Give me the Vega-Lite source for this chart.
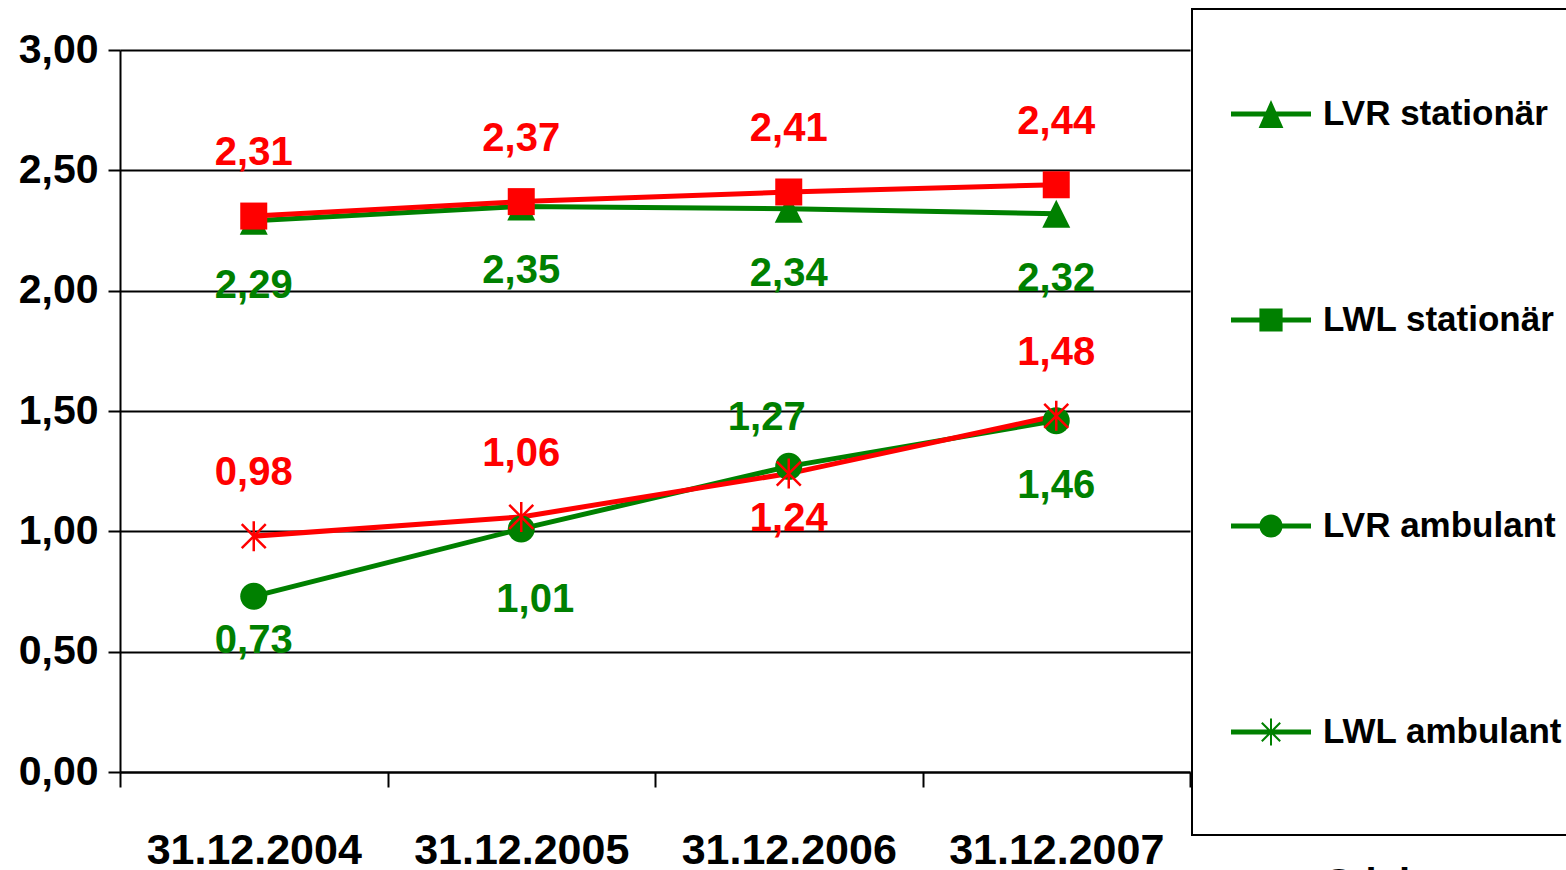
{
  "$schema": "https://vega.github.io/schema/vega-lite/v6.json",
  "autosize": {"type": "none"},
  "padding": {"left": 120, "top": 50, "right": 376, "bottom": 98},
  "width": 1070,
  "height": 722,
  "background": "white",
  "config": {
    "view": {"stroke": null},
    "locale": {"number": {"decimal": ",", "thousands": ".", "grouping": [3], "currency": ["", " €"]}},
    "font": "Liberation Sans"
  },
  "data": {
    "values": [
      {"date": "31.12.2004", "serie": "LVR stationär", "value": 2.29},
      {"date": "31.12.2005", "serie": "LVR stationär", "value": 2.35},
      {"date": "31.12.2006", "serie": "LVR stationär", "value": 2.34},
      {"date": "31.12.2007", "serie": "LVR stationär", "value": 2.32},
      {"date": "31.12.2004", "serie": "LWL stationär", "value": 2.31},
      {"date": "31.12.2005", "serie": "LWL stationär", "value": 2.37},
      {"date": "31.12.2006", "serie": "LWL stationär", "value": 2.41},
      {"date": "31.12.2007", "serie": "LWL stationär", "value": 2.44},
      {"date": "31.12.2004", "serie": "LVR ambulant", "value": 0.73},
      {"date": "31.12.2005", "serie": "LVR ambulant", "value": 1.01},
      {"date": "31.12.2006", "serie": "LVR ambulant", "value": 1.27},
      {"date": "31.12.2007", "serie": "LVR ambulant", "value": 1.46},
      {"date": "31.12.2004", "serie": "LWL ambulant", "value": 0.98},
      {"date": "31.12.2005", "serie": "LWL ambulant", "value": 1.06},
      {"date": "31.12.2006", "serie": "LWL ambulant", "value": 1.24},
      {"date": "31.12.2007", "serie": "LWL ambulant", "value": 1.48}
    ]
  },
  "encoding": {
    "x": {
      "field": "date", "type": "ordinal",
      "scale": {"paddingInner": 0, "paddingOuter": 0},
      "axis": {
        "title": "Stichtag",
        "titleFont": "Liberation Sans", "titleFontWeight": "bold", "titleFontSize": 40, "titleColor": "black",
        "titleX": 1284, "titleY": 92, "titleBaseline": "top", "titleAlign": "center", "titleAnchor": null,
        "labelAngle": 0,
        "labelFont": "Liberation Sans", "labelFontWeight": "bold", "labelFontSize": 43, "labelColor": "black",
        "labelPadding": 42, "labelLimit": 0,
        "tickBand": "extent", "ticks": true, "tickSize": 15, "tickWidth": 2, "tickColor": "black",
        "domain": true, "domainColor": "black", "domainWidth": 2,
        "grid": false
      }
    },
    "y": {
      "field": "value", "type": "quantitative",
      "scale": {"domain": [0, 3], "nice": false, "zero": true},
      "axis": {
        "title": null,
        "values": [0, 0.5, 1, 1.5, 2, 2.5, 3],
        "format": ".2f",
        "labelFont": "Liberation Sans", "labelFontWeight": "bold", "labelFontSize": 41, "labelColor": "black",
        "labelPadding": 10,
        "tickSize": 12, "tickWidth": 2, "tickColor": "black",
        "domain": true, "domainColor": "black", "domainWidth": 2,
        "grid": true, "gridColor": "black", "gridWidth": 2
      }
    },
    "color": {
      "field": "serie", "type": "nominal",
      "scale": {
        "domain": ["LVR stationär", "LWL stationär", "LVR ambulant", "LWL ambulant"],
        "range": ["#008000", "#FF0000", "#008000", "#FF0000"]
      },
      "legend": null
    }
  },
  "layer": [
    {
      "mark": {"type": "line", "strokeWidth": 5}
    },
    {
      "transform": [{"filter": "datum.serie == 'LVR stationär'"}],
      "mark": {"type": "point", "filled": true, "opacity": 1, "shape": "M0,-1L1,1L-1,1Z", "size": 784}
    },
    {
      "transform": [{"filter": "datum.serie == 'LWL stationär'"}],
      "mark": {"type": "point", "filled": true, "opacity": 1, "shape": "square", "size": 729}
    },
    {
      "transform": [{"filter": "datum.serie == 'LVR ambulant'"}],
      "mark": {"type": "point", "filled": true, "opacity": 1, "shape": "circle", "size": 729}
    },
    {
      "transform": [{"filter": "datum.serie == 'LWL ambulant'"}],
      "mark": {"type": "point", "filled": false, "opacity": 1, "strokeWidth": 2.5, "shape": "M0,-1L0,1M-0.8,-0.8L0.8,0.8M-0.8,0.8L0.8,-0.8", "size": 900}
    },
    {
      "mark": {"type": "point", "filled": true, "opacity": 0.001, "size": 6400},
      "encoding": {
        "shape": {
          "field": "serie", "type": "nominal",
          "sort": ["LVR stationär", "LWL stationär", "LVR ambulant", "LWL ambulant"],
          "scale": {
            "range": [
              "M-1,-0.0625H1V0.0625H-1ZM0,-0.35L0.31,0.35L-0.31,0.35ZM0,-2.5L0,-2.5M0,2.5L0,2.5M8,0L8,0",
              "M-1,-0.0625H1V0.0625H-1ZM-0.29,-0.29H0.29V0.29H-0.29ZM0,-2.5L0,-2.5M0,2.5L0,2.5M8,0L8,0",
              "M-1,-0.0625H1V0.0625H-1ZM-0.29,0A0.29,0.29 0 1,1 0.29,0A0.29,0.29 0 1,1 -0.29,0ZM0,-2.5L0,-2.5M0,2.5L0,2.5M8,0L8,0",
              "M-1,-0.0625H1V0.0625H-1ZM-0.025,-0.34H0.025V0.34H-0.025ZM-0.212,-0.248L0.248,0.212L0.212,0.248L-0.248,-0.212ZM-0.212,0.248L-0.248,0.212L0.212,-0.248L0.248,-0.212ZM0,-2.5L0,-2.5M0,2.5L0,2.5M8,0L8,0"
            ]
          },
          "legend": {
            "orient": "none", "legendX": 1072, "legendY": -41,
            "title": " ",
            "titleFontSize": 10,
            "titlePadding": 54,
            "padding": 0,
            "strokeColor": "black",
            "rowPadding": 0,
            "symbolSize": 6400,
            "symbolOffset": 38,
            "symbolOpacity": 1,
            "symbolFillColor": "#008000",
            "symbolStrokeColor": "transparent",
            "labelOffset": 11,
            "labelFont": "Liberation Sans", "labelFontWeight": "bold", "labelFontSize": 35, "labelColor": "black",
            "labelLimit": 1000,
            "encode": {
              "legend": {"update": {"strokeWidth": {"value": 2}}},
              "symbols": {"update": {
                "fill": {"condition": {"test": "indexof(datum.value, 'LWL') == 0", "value": "#FF0000"}, "value": "#008000"},
                "opacity": {"value": 1},
                "fillOpacity": {"value": 1}
              }}
            }
          }
        }
      }
    },
    {
      "transform": [{"filter": "datum.serie == 'LWL stationär' || (datum.serie == 'LWL ambulant' && datum.date != '31.12.2006')"}],
      "mark": {"type": "text", "dy": -63, "fontSize": 40, "fontWeight": "bold", "font": "Liberation Sans", "baseline": "middle"},
      "encoding": {"text": {"field": "value", "type": "quantitative", "format": ".2f"}}
    },
    {
      "transform": [{"filter": "datum.serie == 'LVR ambulant' && datum.date == '31.12.2006'"}],
      "mark": {"type": "text", "dy": -48, "dx": -22, "fontSize": 40, "fontWeight": "bold", "font": "Liberation Sans", "baseline": "middle"},
      "encoding": {"text": {"field": "value", "type": "quantitative", "format": ".2f"}}
    },
    {
      "transform": [{"filter": "datum.serie == 'LVR stationär' || (datum.serie == 'LVR ambulant' && datum.date == '31.12.2007')"}],
      "mark": {"type": "text", "dy": 65, "fontSize": 40, "fontWeight": "bold", "font": "Liberation Sans", "baseline": "middle"},
      "encoding": {"text": {"field": "value", "type": "quantitative", "format": ".2f"}}
    },
    {
      "transform": [{"filter": "datum.serie == 'LVR ambulant' && datum.date == '31.12.2005'"}],
      "mark": {"type": "text", "dy": 71, "dx": 14, "fontSize": 40, "fontWeight": "bold", "font": "Liberation Sans", "baseline": "middle"},
      "encoding": {"text": {"field": "value", "type": "quantitative", "format": ".2f"}}
    },
    {
      "transform": [{"filter": "(datum.serie == 'LVR ambulant' && datum.date == '31.12.2004') || (datum.serie == 'LWL ambulant' && datum.date == '31.12.2006')"}],
      "mark": {"type": "text", "dy": 45, "fontSize": 40, "fontWeight": "bold", "font": "Liberation Sans", "baseline": "middle"},
      "encoding": {"text": {"field": "value", "type": "quantitative", "format": ".2f"}}
    }
  ]
}
